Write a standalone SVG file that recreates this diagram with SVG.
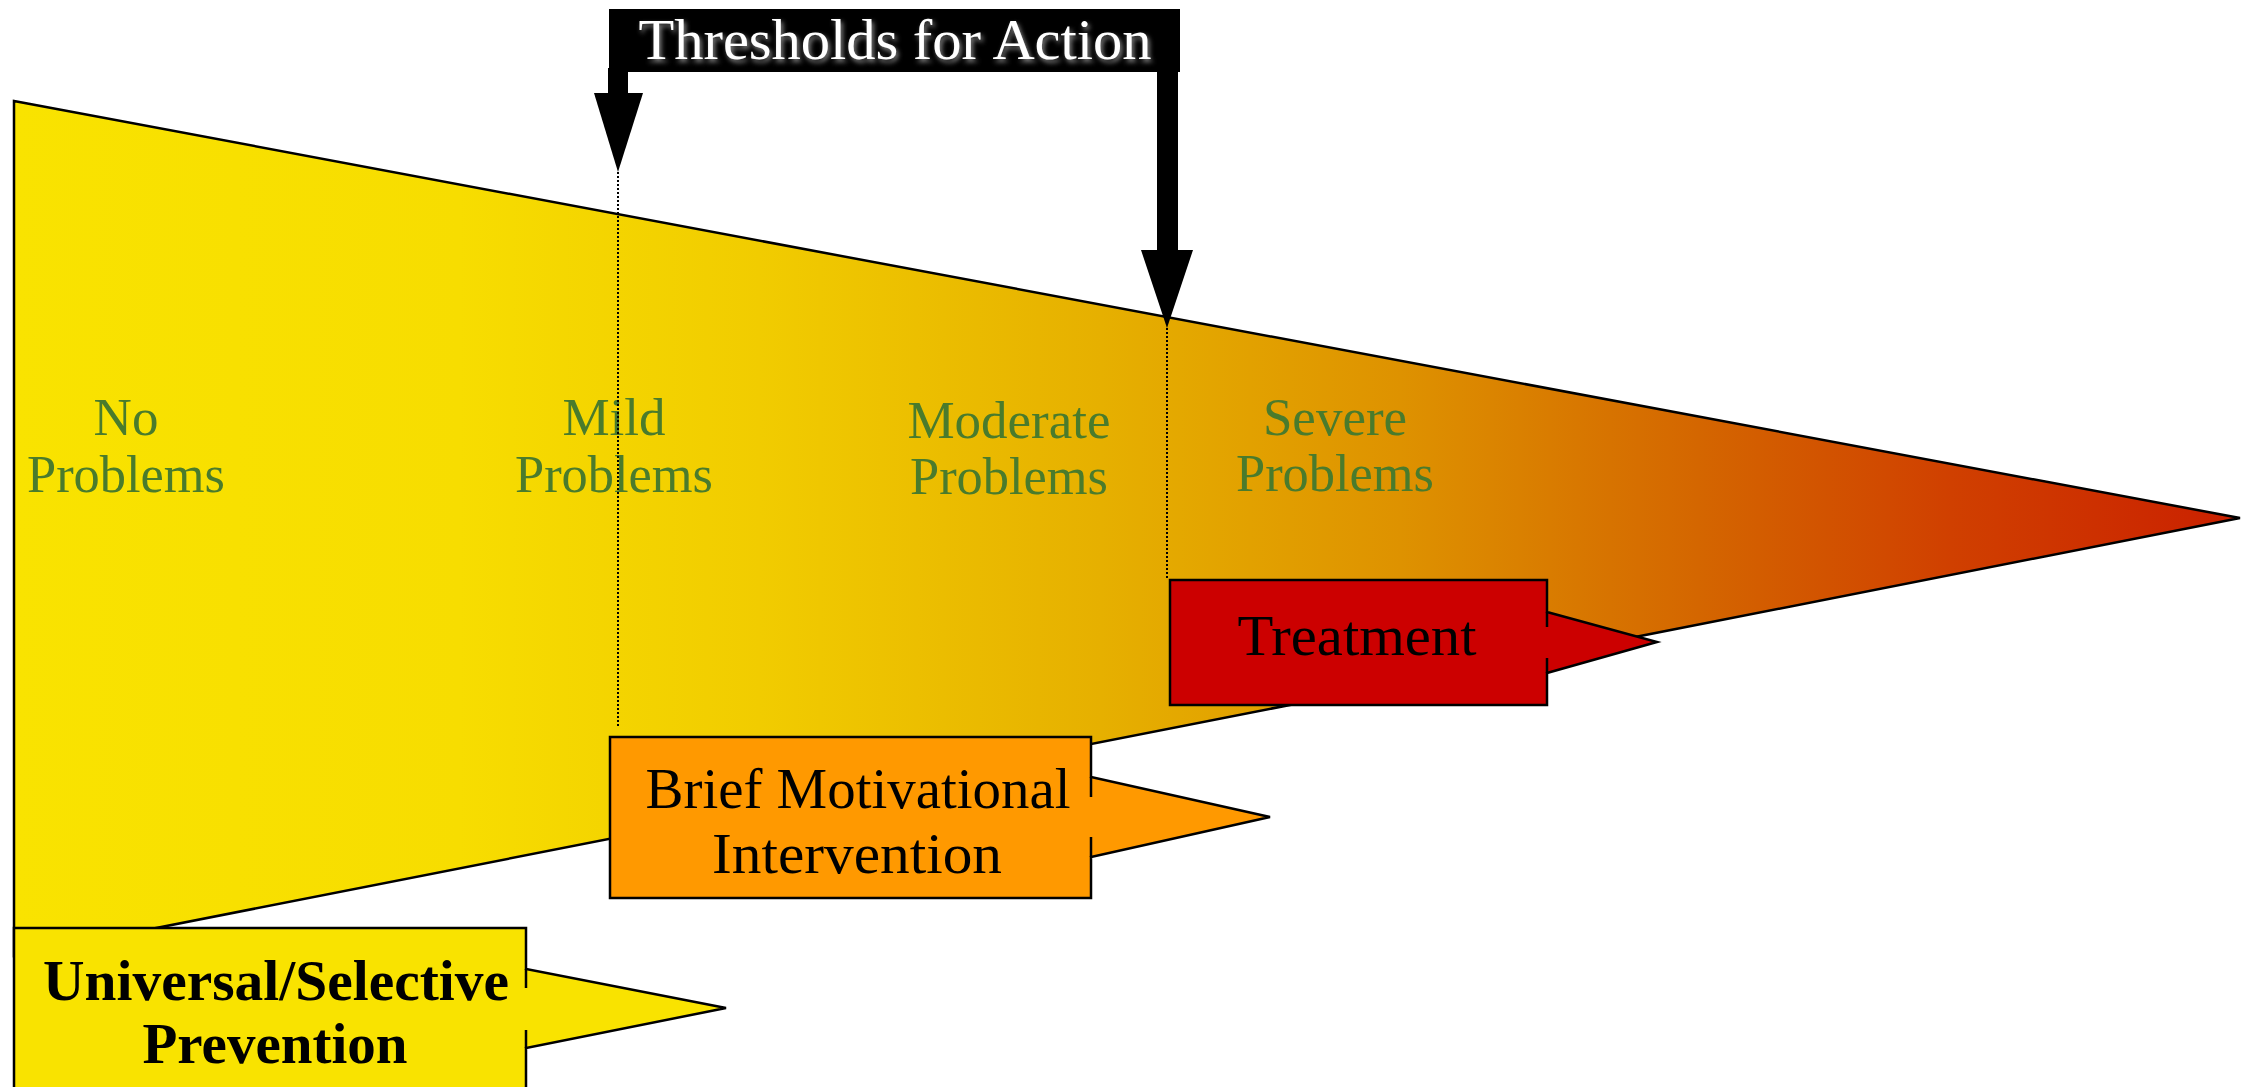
<svg xmlns="http://www.w3.org/2000/svg" width="2250" height="1087" viewBox="0 0 2250 1087">
<style>
.lbl{font-family:"Liberation Serif","Times New Roman",serif;font-size:53px;fill:#4A7B2C;text-anchor:middle}
.box{stroke:#000;stroke-width:2.5;stroke-linejoin:miter}
.seg{stroke:#000;stroke-width:2.5}
.btxt{font-family:"Liberation Serif","Times New Roman",serif;font-size:57px;fill:#000;text-anchor:middle}
.dot{stroke:#000;stroke-width:2;stroke-dasharray:2 2;fill:none}
</style>
<defs>
<linearGradient id="wedgeGrad" gradientUnits="userSpaceOnUse" x1="14" y1="0" x2="2240" y2="0">
<stop offset="0" stop-color="#F9E300"/>
<stop offset="0.2" stop-color="#F7DD00"/>
<stop offset="0.335" stop-color="#F1CC00"/>
<stop offset="0.488" stop-color="#E6B000"/>
<stop offset="0.623" stop-color="#DE9200"/>
<stop offset="0.757" stop-color="#D46600"/>
<stop offset="0.87" stop-color="#D04000"/>
<stop offset="1" stop-color="#CA2000"/>
</linearGradient>
<filter id="glow" x="-10%" y="-30%" width="120%" height="160%">
<feGaussianBlur in="SourceAlpha" stdDeviation="2.5"/>
<feOffset dx="2" dy="3" result="b"/>
<feFlood flood-color="#8a8a8a"/>
<feComposite in2="b" operator="in"/>
<feMerge><feMergeNode/><feMergeNode in="SourceGraphic"/></feMerge>
</filter>
</defs>
<rect width="2250" height="1087" fill="#fff"/>

<g id="wedge">
<polygon points="14,101 2240,518 14,956" fill="url(#wedgeGrad)" stroke="#000" stroke-width="2.5" stroke-linejoin="miter"/>
</g>

<g id="labels">
<g id="label-no"><text class="lbl" x="126" y="435">No</text><text class="lbl" x="126" y="492" textLength="198" lengthAdjust="spacingAndGlyphs">Problems</text></g>
<g id="label-mild"><text class="lbl" x="614" y="435">Mild</text><text class="lbl" x="614" y="492" textLength="198" lengthAdjust="spacingAndGlyphs">Problems</text></g>
<g id="label-moderate"><text class="lbl" x="1009" y="438">Moderate</text><text class="lbl" x="1009" y="494" textLength="198" lengthAdjust="spacingAndGlyphs">Problems</text></g>
<g id="label-severe"><text class="lbl" x="1335" y="435">Severe</text><text class="lbl" x="1335" y="491" textLength="198" lengthAdjust="spacingAndGlyphs">Problems</text></g>
</g>

<g id="connectors">
<line class="dot" x1="618" y1="172" x2="618" y2="728"/>
<line class="dot" x1="1167" y1="328" x2="1167" y2="580"/>
<rect x="608" y="68" width="20" height="27" fill="#000"/>
<polygon points="594,93 643,93 618,172" fill="#000"/>
<rect x="1157" y="68" width="21" height="184" fill="#000"/>
<polygon points="1141,250 1193,250 1167,328" fill="#000"/>
</g>

<g id="title">
<rect x="609" y="9" width="571" height="63" fill="#000"/>
<text x="895" y="59" font-family="'Liberation Serif','Times New Roman',serif" font-size="56" fill="#fff" text-anchor="middle" textLength="513" lengthAdjust="spacingAndGlyphs" filter="url(#glow)">Thresholds for Action</text>
</g>

<g id="treatment">
<polygon class="box" fill="#CC0000" points="1170,580 1547,580 1547,612 1657,642 1547,673 1547,705 1170,705"/>
<line class="seg" x1="1547" y1="612" x2="1547" y2="627"/>
<line class="seg" x1="1547" y1="658" x2="1547" y2="673"/>
<text class="btxt" x="1357" y="655" textLength="239" lengthAdjust="spacingAndGlyphs">Treatment</text>
</g>

<g id="brief">
<polygon class="box" fill="#FF9900" points="610,737 1091,737 1091,777 1270,817 1091,857 1091,898 610,898"/>
<line class="seg" x1="1091" y1="777" x2="1091" y2="797"/>
<line class="seg" x1="1091" y1="837" x2="1091" y2="857"/>
<text class="btxt" x="858" y="808" textLength="425" lengthAdjust="spacingAndGlyphs">Brief Motivational</text>
<text class="btxt" x="857" y="873" textLength="290" lengthAdjust="spacingAndGlyphs">Intervention</text>
</g>

<g id="prevention">
<polygon class="box" fill="#F9E300" points="14,928 526,928 526,969 726,1008 526,1048 526,1100 14,1100"/>
<line class="seg" x1="526" y1="969" x2="526" y2="988"/>
<line class="seg" x1="526" y1="1030" x2="526" y2="1048"/>
<text class="btxt" x="276" y="1000" font-weight="bold" textLength="466" lengthAdjust="spacingAndGlyphs">Universal/Selective</text>
<text class="btxt" x="275" y="1063" font-weight="bold" textLength="265" lengthAdjust="spacingAndGlyphs">Prevention</text>
</g>
</svg>
